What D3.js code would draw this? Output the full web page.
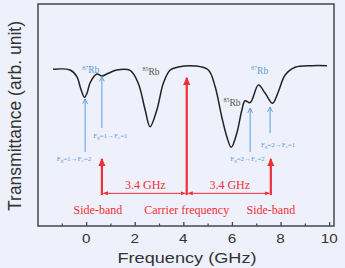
<!DOCTYPE html>
<html>
<head>
<meta charset="utf-8">
<script src="https://cdn.jsdelivr.net/npm/d3@7"></script>
<style>
  html, body { margin: 0; padding: 0; background: #eef1fb; }
  svg { display: block; }
</style>
</head>
<body>
<svg class="chart"></svg>
<script>
// spectrum (GHz, arb. unit)
const freq = [-1.36, -0.66, -0.38, -0.23, -0.07, 0.04, 0.16, 0.44, 0.65, 0.91, 1.26, 1.81,
  2.14, 2.43, 2.63, 2.91, 3.18, 3.46, 3.79, 4.49, 5.03, 5.31, 5.58, 5.79, 5.97, 6.20,
  6.41, 6.54, 6.75, 7.09, 7.37, 7.67, 7.91, 8.19, 8.60, 9.29, 9.91];
const trans = [0.988, 0.984, 0.942, 0.870, 0.812, 0.839, 0.902, 0.959, 0.946, 0.963, 0.984, 0.981,
  0.902, 0.732, 0.626, 0.732, 0.902, 0.984, 1.003, 1.009, 0.984, 0.878, 0.689, 0.563, 0.496, 0.585,
  0.732, 0.790, 0.778, 0.889, 0.837, 0.774, 0.847, 0.952, 1.001, 1.011, 1.011];

const xTicks = [0, 2, 4, 6, 8, 10];
const xMinorTicks = [-1, 1, 3, 5, 7, 9];

// atom labels
const rbIso = ['87', '85', '87', '85'];
const rbFreq = [0.19, 2.67, 7.14, 6.0];
const rbLevel = [0.963, 0.953, 0.959, 0.757];
const rbBlue = [true, false, true, false];

// hyperfine transitions: arrow freq, tip, tail, label
const transFreq = [-0.04, 0.65, 6.75, 7.57];
const transTip = [0.801, 0.942, 0.744, 0.750];
const transTail = [0.467, 0.618, 0.467, 0.586];
const transG = ['1', '1', '2', '2'];
const transE = ['2', '1', '2', '1'];
const transLabelFreq = [-0.5, 1.0, 6.64, 7.9];
const transLabelLevel = [0.410, 0.558, 0.413, 0.501];

// modulation arrows
const bandFreq = [0.65, 4.14, 7.6];
const bandNames = ['Side-band', 'Carrier frequency', 'Side-band'];
const bandTip = [0.423, 0.935, 0.423];
const bandTail = 0.195;
const spacingLabel = '3.4 GHz';
const spacingLevel = 0.206;

const width = 345, height = 268;
const marginTop = 4, marginRight = 11, marginBottom = 42, marginLeft = 38;

const x = d3.scaleLinear([-1.98, 10.2], [marginLeft, width - marginRight]);
const y = d3.scaleLinear([0, 1.4], [height - marginBottom, marginTop]);

const red = '#ee2f35', blue = '#5b9dd8', serif = '"Liberation Serif", "DejaVu Serif", serif';

const svg = d3.select('.chart')
    .attr('width', width)
    .attr('height', height)
    .attr('viewBox', [0, 0, width, height]);

svg.append('rect')
    .attr('width', width).attr('height', height).attr('fill', '#eef1fb');

const defs = svg.append('defs');
defs.append('marker')
    .attr('id', 'redHead')
    .attr('markerUnits', 'userSpaceOnUse')
    .attr('viewBox', '0 -5 10 10')
    .attr('refX', 9).attr('refY', 0)
    .attr('markerWidth', 8).attr('markerHeight', 8)
    .attr('orient', 'auto-start-reverse')
  .append('path')
    .attr('d', 'M0,-4.5L10,0L0,4.5Z')
    .attr('fill', red);
defs.append('marker')
    .attr('id', 'redSmall')
    .attr('markerUnits', 'userSpaceOnUse')
    .attr('viewBox', '0 -5 10 10')
    .attr('refX', 9).attr('refY', 0)
    .attr('markerWidth', 5).attr('markerHeight', 5)
    .attr('orient', 'auto-start-reverse')
  .append('path')
    .attr('d', 'M0,-4L10,0L0,4Z')
    .attr('fill', red);
defs.append('marker')
    .attr('id', 'blueHead')
    .attr('markerUnits', 'userSpaceOnUse')
    .attr('viewBox', '0 -5 10 10')
    .attr('refX', 9).attr('refY', 0)
    .attr('markerWidth', 6).attr('markerHeight', 6)
    .attr('orient', 'auto')
  .append('path')
    .attr('d', 'M1,-4L9,0L1,4')
    .attr('fill', 'none')
    .attr('stroke', blue)
    .attr('stroke-width', 1.6);

// frame
svg.append('rect')
    .attr('x', marginLeft).attr('y', marginTop)
    .attr('width', width - marginLeft - marginRight)
    .attr('height', height - marginTop - marginBottom)
    .attr('fill', '#eef1fb')
    .attr('stroke', '#45474f')
    .attr('stroke-width', 1.5);

// inward ticks
const xAxis = d3.axisBottom(x).tickValues(xTicks).tickSize(-4).tickFormat('');
svg.append('g')
    .attr('transform', `translate(0,${height - marginBottom})`)
    .call(xAxis)
    .call(g => g.select('.domain').remove())
    .call(g => g.selectAll('.tick line').attr('stroke', '#45474f').attr('stroke-width', 1.3));
svg.append('g')
    .attr('transform', `translate(0,${height - marginBottom})`)
    .call(d3.axisBottom(x).tickValues(xMinorTicks).tickSize(-2.5).tickFormat(''))
    .call(g => g.select('.domain').remove())
    .call(g => g.selectAll('.tick line').attr('stroke', '#45474f').attr('stroke-width', 1.2));

// tick labels, slightly stretched like the original
svg.append('g')
  .selectAll('text')
  .data(xTicks)
  .join('text')
    .attr('transform', d => `translate(${x(d)},${height - marginBottom + 17}) scale(1.22,1)`)
    .attr('text-anchor', 'middle')
    .attr('font-family', '"Liberation Sans", Arial, sans-serif')
    .attr('font-size', 12.5)
    .attr('fill', '#333')
    .text(d => d);

svg.append('text')
    .attr('transform', `translate(${(marginLeft + width - marginRight) / 2 + 1},${height - 5}) scale(1.17,1)`)
    .attr('text-anchor', 'middle')
    .attr('font-family', '"Liberation Sans", Arial, sans-serif')
    .attr('font-size', 15.5)
    .attr('fill', '#333')
    .text('Frequency (GHz)');

svg.append('text')
    .attr('transform', `translate(21,116) rotate(-90)`)
    .attr('text-anchor', 'middle')
    .attr('font-family', '"Liberation Sans", Arial, sans-serif')
    .attr('font-size', 17.5)
    .attr('fill', '#333')
    .text('Transmittance (arb. unit)');

// spectrum
const line = d3.line()
    .curve(d3.curveCatmullRom.alpha(0.5))
    .x(i => x(freq[i]))
    .y(i => y(trans[i]));

svg.append('path')
    .attr('fill', 'none')
    .attr('stroke', '#222')
    .attr('stroke-width', 1.5)
    .attr('stroke-linejoin', 'round')
    .attr('d', line(d3.range(freq.length)));

// Rb labels
const rb = svg.append('g')
  .selectAll('text')
  .data(d3.range(rbIso.length))
  .join('text')
    .attr('x', i => x(rbFreq[i]))
    .attr('y', i => y(rbLevel[i]))
    .attr('text-anchor', 'middle')
    .attr('font-family', serif)
    .attr('font-size', 9.5)
    .attr('fill', i => rbBlue[i] ? blue : '#555');
rb.append('tspan')
    .attr('font-size', 6)
    .attr('dy', -3.5)
    .text(i => rbIso[i]);
rb.append('tspan')
    .attr('dy', 3.5)
    .text('Rb');

// transition arrows
svg.append('g')
  .selectAll('line')
  .data(d3.range(transFreq.length))
  .join('line')
    .attr('x1', i => x(transFreq[i]))
    .attr('x2', i => x(transFreq[i]))
    .attr('y1', i => y(transTail[i]))
    .attr('y2', i => y(transTip[i]))
    .attr('stroke', blue)
    .attr('stroke-width', 1)
    .attr('marker-end', 'url(#blueHead)');

const tl = svg.append('g')
  .selectAll('text')
  .data(d3.range(transFreq.length))
  .join('text')
    .attr('x', i => x(transLabelFreq[i]))
    .attr('y', i => y(transLabelLevel[i]))
    .attr('text-anchor', 'middle')
    .attr('font-family', serif)
    .attr('font-size', 7)
    .attr('fill', blue);
tl.append('tspan').text('F');
tl.append('tspan').attr('font-size', 5).attr('dy', 1.5).text('g');
tl.append('tspan').attr('dy', -1.5).text(i => '=' + transG[i] + '\u2192F');
tl.append('tspan').attr('font-size', 5).attr('dy', 1.5).text('e');
tl.append('tspan').attr('dy', -1.5).text(i => '=' + transE[i]);

// carrier and side-bands
svg.append('g')
  .selectAll('line')
  .data(d3.range(bandFreq.length))
  .join('line')
    .attr('x1', i => x(bandFreq[i]))
    .attr('x2', i => x(bandFreq[i]))
    .attr('y1', y(bandTail))
    .attr('y2', i => y(bandTip[i]))
    .attr('stroke', red)
    .attr('stroke-width', 2.2)
    .attr('marker-end', 'url(#redHead)');

svg.append('g')
  .selectAll('line')
  .data([0, 1])
  .join('line')
    .attr('x1', i => x(bandFreq[i]) + 1.5)
    .attr('x2', i => x(bandFreq[i + 1]) - 1.5)
    .attr('y1', y(spacingLevel))
    .attr('y2', y(spacingLevel))
    .attr('stroke', red)
    .attr('stroke-width', 1)
    .attr('marker-start', 'url(#redSmall)')
    .attr('marker-end', 'url(#redSmall)');

svg.append('g')
  .selectAll('text')
  .data([0, 1])
  .join('text')
    .attr('x', i => (x(bandFreq[i]) + x(bandFreq[i + 1])) / 2 + 1)
    .attr('y', y(spacingLevel) - 4.5)
    .attr('text-anchor', 'middle')
    .attr('font-family', serif)
    .attr('font-size', 12)
    .attr('fill', red)
    .text(spacingLabel);

svg.append('g')
  .selectAll('text')
  .data(d3.range(bandNames.length))
  .join('text')
    .attr('x', i => x(bandFreq[i]) + (i === 0 ? -4 : 0))
    .attr('y', y(bandTail) + 19)
    .attr('text-anchor', 'middle')
    .attr('font-family', serif)
    .attr('font-size', 12)
    .attr('fill', red)
    .text(d => bandNames[d]);
</script>
</body>
</html>
